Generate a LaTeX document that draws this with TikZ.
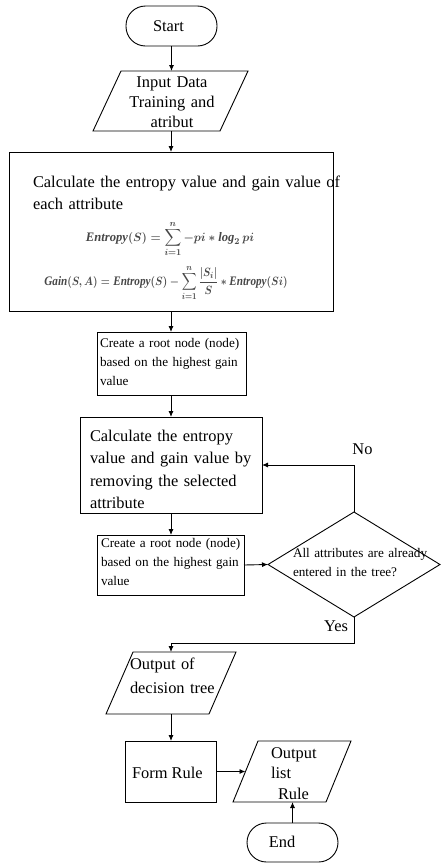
\documentclass[tikz,border=0pt]{standalone}
\usepackage{fontspec}
\usepackage{amsmath}
\setmainfont{Liberation Serif}
\usetikzlibrary{arrows.meta,shapes.geometric}

% the two formulas printed inside the entropy box
\newcommand{\entropyeq}{\ensuremath{\mathit{Entropy}(S)=\displaystyle\sum_{i=1}^{n}-pi\ast\mathit{log}_2\,pi}}
\newcommand{\gaineq}{\ensuremath{\mathit{Gain}(S,A)=\mathit{Entropy}(S)-\displaystyle\sum_{i=1}^{n}\frac{\lvert S_i\rvert}{S}\ast\mathit{Entropy}(Si)}}

\begin{document}
\begin{tikzpicture}[x=1pt,y=-1pt,
  every node/.style={inner sep=0pt, outer sep=0pt},
  frame/.style={draw=black, line width=0.9pt},
  pill/.style={frame, rounded corners=19.5pt},
  ghost/.style={rectangle},
  flow/.style={draw=black, line width=0.9pt, -{Latex[length=6pt,width=5pt]}},
  bigtxt/.style={font=\fontsize{16.4}{22.5}\selectfont},
  smalltxt/.style={font=\fontsize{13.2}{19}\selectfont},
  eqtxt/.style={text=black!72, font=\fontsize{13}{15}\selectfont\boldmath, transform shape},
]
\useasboundingbox (0,0) rectangle (441,863);

% start terminal
\node[pill, minimum width=91, minimum height=40] (start) at (171.5,26) {};
\node[bigtxt] (start-t) at (168.5,26) {Start};

% input parallelogram
\node[ghost, minimum width=155, minimum height=60] (inp) at (170.5,101) {};
\draw[frame] ([xshift=28pt]inp.north west) -- (inp.north east)
  -- ([xshift=-28pt]inp.south east) -- (inp.south west) -- cycle;
\node[text width=140, align=center, anchor=base, font=\fontsize{16.4}{20}\selectfont]
  (inp-t) at (172,87) {Input Data\\Training and\\atribut};

% entropy / gain box
\node[frame, minimum width=324, minimum height=159] (calc) at (171,231.5) {};
\node[text width=320, align=left, anchor=base west, font=\fontsize{16.4}{22}\selectfont]
  (calc-t) at (33,187) {Calculate the entropy value and gain value of\\each attribute};
\node[eqtxt, xscale=0.97, anchor=base] (enteq) at (170,241) {\entropyeq};
\node[eqtxt, xscale=0.86, anchor=base] (gaineq) at (166,285) {\gaineq};

% first root node
\node[frame, minimum width=149, minimum height=63] (root1) at (171.5,363.5) {};
\node[smalltxt, text width=170, align=left, anchor=base west]
  (root1-t) at (100,347) {Create a root node (node)\\based on the highest gain\\value};

% recalculation box
\node[frame, minimum width=182, minimum height=96] (calc2) at (171,465) {};
\node[bigtxt, text width=200, align=left, anchor=base west]
  (calc2-t) at (90,441) {Calculate the entropy\\value and gain value by\\removing the selected\\attribute};

% second root node
\node[frame, minimum width=147, minimum height=60] (root2) at (170.5,565) {};
\node[smalltxt, text width=170, align=left, anchor=base west]
  (root2-t) at (101,547) {Create a root node (node)\\based on the highest gain\\value};

% decision
\node[frame, diamond, minimum width=172, minimum height=105] (check) at (354,564.5) {};
\node[smalltxt, text width=170, align=left, anchor=base west]
  (check-t) at (293,557) {All attributes are already\\entered in the tree?};
\node[bigtxt] (no) at (362.5,449) {No};
\node[bigtxt] (yes) at (336,626) {Yes};

% output of decision tree
\node[ghost, minimum width=130, minimum height=62] (out) at (171,683) {};
\draw[frame] ([xshift=27pt]out.north west) -- (out.north east)
  -- ([xshift=-27pt]out.south east) -- (out.south west) -- cycle;
\node[text width=130, align=left, anchor=base west, font=\fontsize{16.4}{24}\selectfont]
  (out-t) at (130,669) {Output of\\decision tree};

% form rule
\node[frame, minimum width=91, minimum height=61] (form) at (170.5,771.5) {};
\node[bigtxt, anchor=base west] (form-t) at (132,778) {Form Rule};

% output list rule
\node[ghost, minimum width=118, minimum height=61] (lst) at (292,771.5) {};
\draw[frame] ([xshift=25pt]lst.north west) -- (lst.north east)
  -- ([xshift=-25pt]lst.south east) -- (lst.south west) -- cycle;
\node[text width=80, align=left, anchor=base west, font=\fontsize{16.4}{20.5}\selectfont]
  (lst-t) at (271,758) {Output\\list\\\hspace*{7pt}Rule};

% end terminal
\node[pill, minimum width=91, minimum height=39] (end) at (292.5,842.5) {};
\node[bigtxt] (end-t) at (282,842) {End};

% connectors
\draw[flow] (start.south) -- (start.south |- inp.north);
\draw[flow] (calc.north |- inp.south) -- (calc.north);
\draw[flow] (calc.south) -- (calc.south |- root1.north);
\draw[flow] (calc2.north |- root1.south) -- (calc2.north);
\draw[flow] (calc2.south) -- (calc2.south |- root2.north);
\draw[flow] (root2.east) -- (check.west);
\draw[flow] (check.north) |- (calc2.east);
\draw[flow] (check.south) -- ++(0,26) -| (out.north);
\draw[flow] (out.south) -- (out.south |- form.north);
\draw[flow] (form.east) -- ([xshift=12.5pt]lst.west);
\draw[flow] (end.north) -- (end.north |- lst.south);
\end{tikzpicture}
\end{document}
